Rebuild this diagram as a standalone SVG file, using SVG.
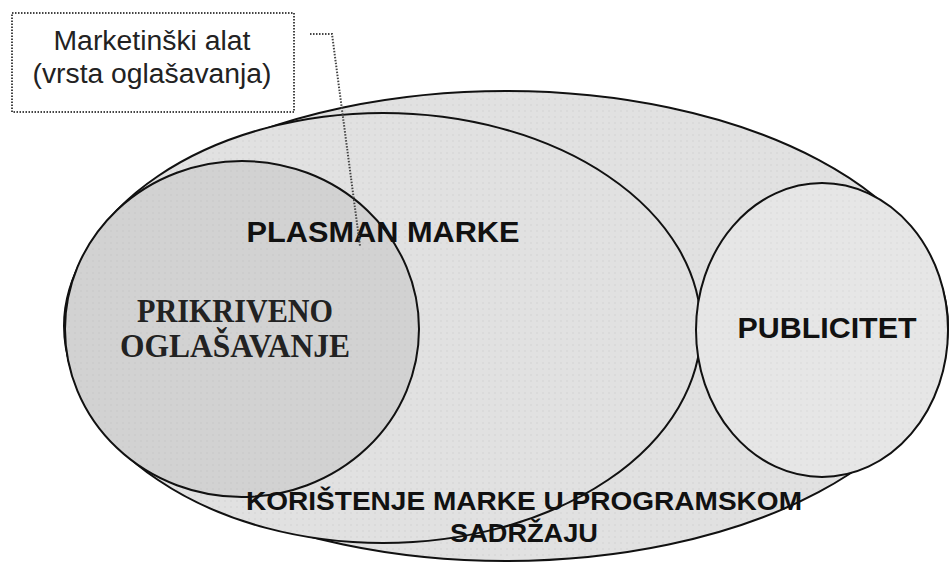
<svg xmlns="http://www.w3.org/2000/svg" width="949" height="563" viewBox="0 0 949 563">
<defs>
<pattern id="dots" width="6" height="6" patternUnits="userSpaceOnUse">
<rect width="6" height="6" fill="#e1e1e1"/>
<circle cx="3" cy="3" r="0.7" fill="#cfcfcf"/>
</pattern>
<pattern id="dots2" width="6" height="6" patternUnits="userSpaceOnUse">
<rect width="6" height="6" fill="#d2d2d2"/>
<circle cx="3" cy="3" r="0.7" fill="#c4c4c4"/>
</pattern>
<pattern id="dots3" width="6" height="6" patternUnits="userSpaceOnUse">
<rect width="6" height="6" fill="#e6e6e6"/>
<circle cx="3" cy="3" r="0.7" fill="#d6d6d6"/>
</pattern>
</defs>
<style>
.shape{stroke:#111;stroke-width:2}
.sans{font-family:"Liberation Sans",Arial,sans-serif;font-weight:bold;fill:#111}
.serif{font-family:"Liberation Serif","Times New Roman",serif;font-weight:bold;fill:#222}
.lbl{font-family:"Liberation Sans",Arial,sans-serif;fill:#222}
.dot{fill:none;stroke:#444;stroke-width:2;stroke-dasharray:1.5 1.5}
</style>
<rect width="949" height="563" fill="#fff"/>
<g id="koristenje">
<ellipse class="shape" cx="506" cy="326" rx="442" ry="235" fill="url(#dots)"/>
</g>
<g id="plasman">
<ellipse class="shape" cx="383" cy="328" rx="318" ry="215" fill="url(#dots)"/>
</g>
<g id="prikriveno">
<ellipse class="shape" cx="242" cy="329" rx="177" ry="168" fill="url(#dots2)"/>
<text class="serif" font-size="33" text-anchor="middle" x="235" y="322" textLength="196" lengthAdjust="spacingAndGlyphs">PRIKRIVENO</text>
<text class="serif" font-size="33" text-anchor="middle" x="235" y="357" textLength="230" lengthAdjust="spacingAndGlyphs">OGLAŠAVANJE</text>
</g>
<g id="publicitet">
<ellipse class="shape" cx="822" cy="330" rx="126" ry="147" fill="url(#dots3)"/>
<text class="sans" font-size="29" text-anchor="middle" x="827" y="338" textLength="179" lengthAdjust="spacingAndGlyphs">PUBLICITET</text>
</g>
<g id="labels">
<text class="sans" font-size="29" text-anchor="middle" x="383" y="242" textLength="273" lengthAdjust="spacingAndGlyphs">PLASMAN MARKE</text>
<text class="sans" font-size="26" text-anchor="middle" x="524" y="510" textLength="556" lengthAdjust="spacingAndGlyphs">KORIŠTENJE MARKE U PROGRAMSKOM</text>
<text class="sans" font-size="26" text-anchor="middle" x="524" y="542" textLength="148" lengthAdjust="spacingAndGlyphs">SADRŽAJU</text>
</g>
<g id="marketinski">
<rect class="dot" x="12" y="13" width="282" height="99"/>
<text class="lbl" font-size="27" text-anchor="middle" x="152" y="50" textLength="197" lengthAdjust="spacingAndGlyphs">Marketinški alat</text>
<text class="lbl" font-size="27" text-anchor="middle" x="152" y="83" textLength="239" lengthAdjust="spacingAndGlyphs">(vrsta oglašavanja)</text>
</g>
<g id="connectors">
<polyline class="dot" points="310,34 332,34 360,246"/>
</g>
</svg>
